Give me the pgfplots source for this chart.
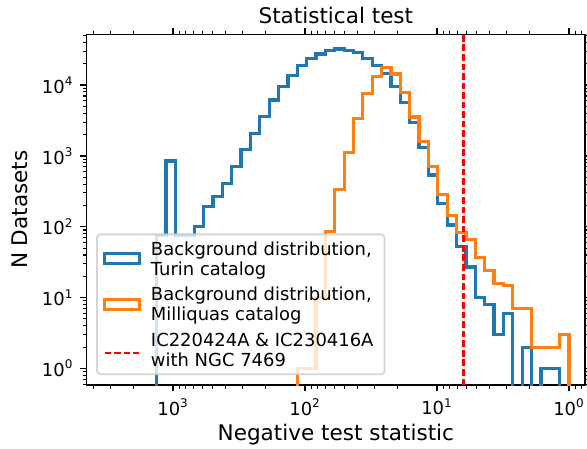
\documentclass[border=0pt]{standalone}
\usepackage{fontspec}
\setmainfont{DejaVu Sans}
\usepackage{pgfplots}
\pgfplotsset{compat=1.18}
\definecolor{mplblue}{HTML}{1F77B4}
\definecolor{mplorange}{HTML}{FF7F0E}
\definecolor{legframe}{gray}{0.8}
\newcommand{\topstrut}{\rule{0pt}{7.85bp}}
\newcommand{\botstrut}{\rule[-2.15bp]{0pt}{0pt}}
\begin{document}
\begin{tikzpicture}
\useasboundingbox (-43.35bp,-31.5bp) rectangle (250bp,192.5bp);
\begin{axis}[
  at={(0,0)}, anchor=south west,
  scale only axis, width=249bp, height=175.35bp,
  clip mode=individual,
  xmode=log, ymode=log, x dir=reverse,
  xmin=0.757, xmax=4509, ymin=0.581, ymax=52000,
  xtick={1,10,100,1000},
  xticklabels={10\textsuperscript{0},10\textsuperscript{1},10\textsuperscript{2},10\textsuperscript{3}},
  ytick={1,10,100,1000,10000},
  yticklabels={10\textsuperscript{0},10\textsuperscript{1},10\textsuperscript{2},10\textsuperscript{3},10\textsuperscript{4}},
  minor xtick={0.8,0.9,2,3,4,5,6,7,8,9,20,30,40,50,60,70,80,90,200,300,400,500,600,700,800,900,2000,3000,4000},
  minor ytick={0.6,0.7,0.8,0.9,2,3,4,5,6,7,8,9,20,30,40,50,60,70,80,90,200,300,400,500,600,700,800,900,2000,3000,4000,5000,6000,7000,8000,9000,20000,30000,40000,50000},
  tick align=outside,
  major tick length=3.15bp, minor tick length=1.8bp,
  every tick/.style={black, line width=0.72bp},
  minor tick style={line width=0.54bp},
  axis line style={line width=0.72bp},
  tick label style={font=\fontsize{9}{10.8}\selectfont},
  label style={font=\fontsize{10.8}{13}\selectfont},
  xlabel={Negative test statistic},
  ylabel={N Datasets},
  xlabel style={at={(axis description cs:0.5,-0.1568)}, anchor=base},
  ylabel style={at={(axis description cs:-0.1179,0.5)}, anchor=base, rotate=0},
  legend cell align=left,
  legend style={at={(axis description cs:0.0187,0.0285)}, anchor=south west,
    draw=legframe, line width=0.9bp, rounded corners=1.8bp,
    fill=white, fill opacity=0.8, draw opacity=0.8, text opacity=1,
    font=\fontsize{9}{10}\selectfont, cells={align=left},
    inner xsep=3bp, inner ysep=2.5bp, row sep=3.5bp, column sep=5bp,
    nodes={inner sep=0pt}},
]
\addplot[const plot mark left, mplblue, line width=1.6bp, line join=miter,
  legend image code/.code={\path[draw=none,fill=none] (0bp,-8bp) -- (0bp,8bp);
    \draw[mplblue, line width=1.6bp, draw opacity=1, sharp corners, line join=miter] (0.8bp,-2.45bp) rectangle (18.2bp,2.45bp);}]
  coordinates {
(1330.5,0.001) (1330.5,75) (1129.8,850) (959.4,75) (814.7,76) (691.8,100)
(587.5,192) (498.9,265) (423.6,410) (359.7,700) (305.5,1240) (259.4,2080)
(220.3,3570) (187.1,6160) (158.9,9500) (134.9,13800) (114.6,19000) (97.3,23700)
(82.6,27500) (70.1,30700) (59.6,32300) (50.6,31000) (42.95,29000) (36.5,23900)
(30.97,19100) (26.3,14500) (22.3,9500) (18.97,5600) (16.1,2980) (13.68,1320)
(11.61,537) (9.86,214) (8.37,106) (7.11,53) (6.04,27) (5.13,10)
(4.36,8) (3.70,3) (3.14,6) (2.67,0.001) (2.26,2) (1.92,0.001)
(1.63,1) (1.39,1) (1.18,0.001) (1.0,0.001)
};
\addlegendentry{\topstrut Background distribution,\hspace*{2.5bp}\\Turin catalog\botstrut}
\addplot[const plot mark left, mplorange, line width=1.6bp, line join=miter,
  legend image code/.code={\path[draw=none,fill=none] (0bp,-8bp) -- (0bp,8bp);
    \draw[mplorange, line width=1.6bp, draw opacity=1, sharp corners, line join=miter] (0.8bp,-2.45bp) rectangle (18.2bp,2.45bp);}]
  coordinates {
(114.6,0.001) (114.6,1) (97.3,1) (82.6,10) (70.1,85) (59.6,335)
(50.6,1130) (42.95,3350) (36.5,7660) (30.97,13100) (26.3,17500) (22.3,14300)
(18.97,7750) (16.1,3540) (13.68,1590) (11.61,703) (9.86,285) (8.37,146)
(7.11,82) (6.04,66) (5.13,37) (4.36,24) (3.70,16) (3.14,15)
(2.67,7) (2.26,7) (1.92,2) (1.63,2) (1.39,2) (1.18,3)
(1.0,3) (1.0,0.001)
};
\addlegendentry{\topstrut Background distribution,\hspace*{2.5bp}\\Milliquas catalog\botstrut}
\addplot[red, line width=1.2bp, dash pattern=on 3.33bp off 1.44bp,
  legend image code/.code={\path[draw=none,fill=none] (0bp,-8bp) -- (0bp,8bp);
    \draw[red, line width=1.2bp, dash pattern=on 3.33bp off 1.44bp, draw opacity=1] (0.8bp,-1.5bp) -- (18.2bp,-1.5bp);}]
  coordinates {(6.32,0.581) (6.32,52000)};
\addlegendentry{\topstrut IC220424A \& IC230416A\hspace*{2.5bp}\\with NGC 7469\botstrut}
\node[font=\fontsize{10.8}{13}\selectfont, anchor=base, inner sep=0pt] at (axis description cs:0.5,1.0308) {Statistical test};
\end{axis}
\end{tikzpicture}
\end{document}
